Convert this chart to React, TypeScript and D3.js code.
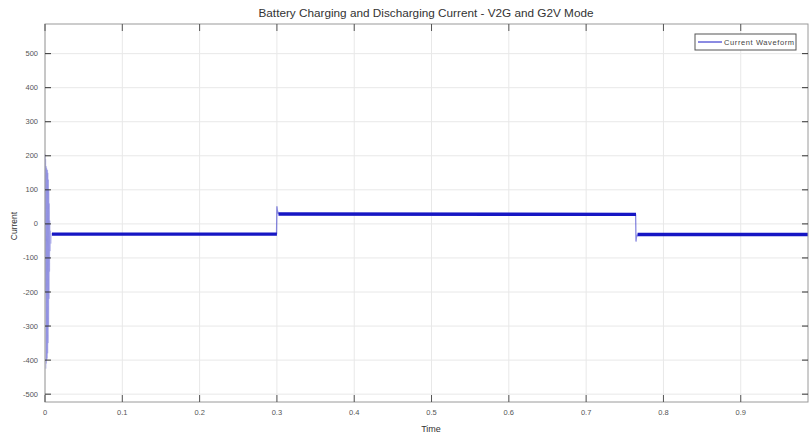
import React from "react";
import * as d3 from "d3";

const title = "Battery Charging and Discharging Current - V2G and G2V Mode";
const xTicks = [0, 0.1, 0.2, 0.3, 0.4, 0.5, 0.6, 0.7, 0.8, 0.9];
const xTickLabels = ["0", "0.1", "0.2", "0.3", "0.4", "0.5", "0.6", "0.7", "0.8", "0.9"];
const yTicks = [500, 400, 300, 200, 100, 0, -100, -200, -300, -400, -500];
const yTickLabels = ["500", "400", "300", "200", "100", "0", "-100", "-200", "-300", "-400", "-500"];

// start-up transient (dense oscillation)
const transientTime = [0, 0.0003, 0.0006, 0.0009, 0.0012, 0.0015, 0.0018, 0.0021, 0.0024, 0.0027, 0.003, 0.0033, 0.0036, 0.0039, 0.0042, 0.0045, 0.0048, 0.0051, 0.0054, 0.0057, 0.006, 0.0064, 0.0068, 0.0072, 0.0078, 0.0085, 0.009];
const transientCurrent = [0, 205, -200, 190, -425, 170, -410, 165, -400, 160, -395, 158, -380, 150, -350, 130, -300, 100, -220, 60, -140, 10, -80, -20, -58, -28, -30];

// steady segments (G2V / V2G / G2V)
const steadyTime = [0.009, 0.3, 0.3, 0.302, 0.7645, 0.7645, 0.7665, 0.987];
const steadyCurrent = [-30, -30, null, 29, 28, null, -31, -31];

// switching spikes
const spikeTime = [0.2995, 0.3, 0.3005, 0.302, 0.764, 0.7645, 0.765, 0.7665];
const spikeCurrent = [-30, 52, 40, 29, 28, -52, -40, -31];

const seriesName = "Current Waveform";

export default function App() {
  const W = 810, H = 434;
  const left = 45, right = 808, top = 24, bottom = 402;
  const x = d3.scaleLinear().domain([0, 0.987]).range([left, right]);
  const y = d3.scaleLinear().domain([-523, 587]).range([bottom, top]);
  const font = "'Liberation Sans', Arial, sans-serif";

  const line = d3.line<[number, number | null]>()
    .defined((d) => d[1] !== null)
    .x((d) => x(d[0]))
    .y((d) => y(d[1] as number));

  const tr = transientTime.map((t, i) => [t, transientCurrent[i]] as [number, number]);
  const st = steadyTime.map((t, i) => [t, steadyCurrent[i]] as [number, number | null]);
  const sp1 = spikeTime.slice(0, 4).map((t, i) => [t, spikeCurrent[i]] as [number, number]);
  const sp2 = spikeTime.slice(4).map((t, i) => [t, spikeCurrent[i + 4]] as [number, number]);

  const blue = "#1616c4";

  return (
    <svg width={W} height={H} style={{ position: "absolute", left: 0, top: 0, background: "#fff" }}>
      <rect x={0} y={0} width={W} height={H} fill="#fff" />
      {/* grid */}
      {xTicks.map((t) => (
        <line key={"gx" + t} x1={x(t)} x2={x(t)} y1={top} y2={bottom} stroke="#e8e8e8" strokeWidth={1} />
      ))}
      {yTicks.map((t) => (
        <line key={"gy" + t} x1={left} x2={right} y1={y(t)} y2={y(t)} stroke="#e8e8e8" strokeWidth={1} />
      ))}
      {/* data */}
      <path d={line(tr) || ""} fill="none" stroke="#5050d0" strokeOpacity={0.2} strokeWidth={1} />
      <path d={line(sp1) || ""} fill="none" stroke={blue} strokeOpacity={0.5} strokeWidth={1.3} />
      <path d={line(sp2) || ""} fill="none" stroke={blue} strokeOpacity={0.5} strokeWidth={1.3} />
      <path d={line(st) || ""} fill="none" stroke={blue} strokeWidth={3.4} />
      {/* box */}
      <rect x={left} y={top} width={right - left} height={bottom - top} fill="none" stroke="#9a9a9a" strokeWidth={1} />
      {/* ticks */}
      {xTicks.map((t) => (
        <g key={"tx" + t}>
          <line x1={x(t)} x2={x(t)} y1={bottom} y2={bottom - 7} stroke="#555" />
          <line x1={x(t)} x2={x(t)} y1={top} y2={top + 7} stroke="#555" />
        </g>
      ))}
      {yTicks.map((t) => (
        <g key={"ty" + t}>
          <line x1={left} x2={left + 6} y1={y(t)} y2={y(t)} stroke="#333" />
          <line x1={right} x2={right - 6} y1={y(t)} y2={y(t)} stroke="#333" />
        </g>
      ))}
      {xTickLabels.map((s, i) => (
        <text key={"lx" + s} x={x(xTicks[i])} y={415} fontSize={7.5} fontFamily={font} fill="#555" textAnchor="middle">{s}</text>
      ))}
      {yTickLabels.map((s, i) => (
        <text key={"ly" + s} x={38} y={y(yTicks[i]) + 2.5} fontSize={7.5} fontFamily={font} fill="#555" textAnchor="end">{s}</text>
      ))}
      {/* labels */}
      <text x={426} y={17} fontSize={11.5} fontFamily={font} fill="#333" textAnchor="middle" textLength={335} lengthAdjust="spacingAndGlyphs">{title}</text>
      <text x={431} y={432} fontSize={9} fontFamily={font} fill="#333" textAnchor="middle">Time</text>
      <text transform={`translate(17,226) rotate(-90)`} fontSize={8.5} fontFamily={font} fill="#333" textAnchor="middle">Current</text>
      {/* legend */}
      <rect x={695} y={34} width={101} height={16} fill="#fff" stroke="#555" strokeWidth={1} />
      <line x1={698} x2={722} y1={42} y2={42} stroke={blue} strokeWidth={1} />
      <text x={724} y={45} fontSize={7.5} fontFamily={font} fill="#444" textLength={70}>{seriesName}</text>
    </svg>
  );
}
